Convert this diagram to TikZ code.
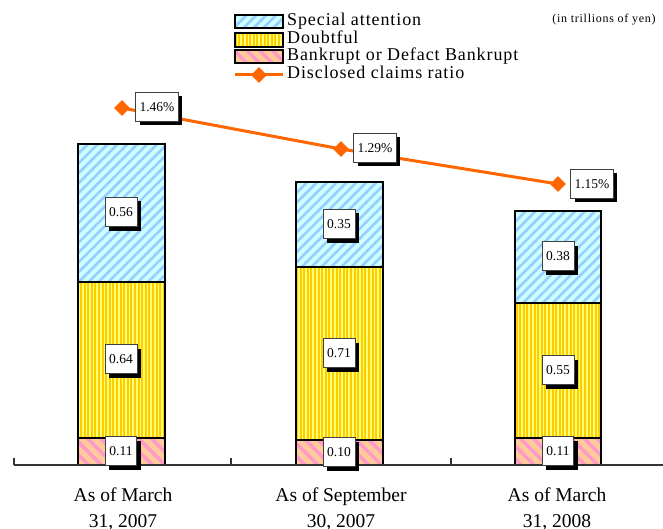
\documentclass[tikz,border=0pt]{standalone}
\usepackage{fontspec}
\setmainfont{Liberation Serif}
\usetikzlibrary{patterns.meta,shapes.geometric,shadows}
\definecolor{saBg}{HTML}{CCFFFF}
\definecolor{saFg}{HTML}{99CCFF}
\definecolor{dBg}{HTML}{FFCC00}
\definecolor{dFg}{HTML}{FFFF77}
\definecolor{bBg}{HTML}{FFCC99}
\definecolor{bFg}{HTML}{FF99CC}
\definecolor{orng}{HTML}{FF6600}
\begin{document}
\begin{tikzpicture}[x=1pt,y=-1pt,
  border/.style={draw=black,line width=1.1pt},
  saseg/.style={fill=saBg,postaction={pattern={Lines[angle=45,distance=7pt,line width=2.6pt]},pattern color=saFg},postaction={border}},
  dseg/.style={fill=dBg,postaction={pattern={Lines[angle=90,distance=3.6pt,line width=1.5pt]},pattern color=dFg},postaction={border}},
  bseg/.style={fill=bBg,postaction={pattern={Lines[angle=-45,distance=9pt,line width=3.5pt]},pattern color=bFg},postaction={border}},
  val/.style={draw=black!75,fill=white,line width=0.6pt,font=\fontsize{13.5}{15}\selectfont,minimum height=29pt,inner xsep=4pt,inner ysep=2pt,drop shadow={shadow xshift=4pt,shadow yshift=-4pt,fill=black,opacity=1}},
  dia/.style={diamond,fill=orng,inner sep=0pt,minimum width=16pt,minimum height=16pt},
  ratio/.style={orng,line width=3pt},
  legtxt/.style={anchor=west,font=\fontsize{18}{18}\selectfont\addfontfeatures{LetterSpace=5},inner sep=0pt,text height=12pt,text depth=3.5pt},
  cat/.style={anchor=north,align=center,font=\fontsize{19.5}{26}\selectfont,inner sep=0pt},
  axis/.style={draw=black!80,line width=1.2pt}
]
\useasboundingbox (0,0) rectangle (663,529);

% legend
\path[saseg] (235,15) rectangle (283,28);
\path[dseg] (235,33) rectangle (283,47);
\path[bseg] (235,50) rectangle (283,63);
\coordinate (l1) at (235,75);
\coordinate (l2) at (283,75);
\draw[ratio] (l1) -- (l2);
\node[dia] (ld) at (259,75) {};
\node[legtxt] (t1) at (287,21) {Special attention};
\node[legtxt] (t2) at (287,39) {Doubtful};
\node[legtxt] (t3) at (287,56.5) {Bankrupt or Defact Bankrupt};
\node[legtxt] (t4) at (287,74.5) {Disclosed claims ratio};
\node[font=\fontsize{12}{13}\selectfont\addfontfeatures{LetterSpace=6},inner sep=0pt] (unit) at (604,20) {(in trillions of yen)};

% bars
\path[bseg] (78,465) rectangle (165,438);
\path[dseg] (78,438) rectangle (165,282);
\path[saseg] (78,282) rectangle (165,144);

\path[bseg] (296,465) rectangle (383,440);
\path[dseg] (296,440) rectangle (383,267);
\path[saseg] (296,267) rectangle (383,182);

\path[bseg] (515,465) rectangle (601,438);
\path[dseg] (515,438) rectangle (601,303);
\path[saseg] (515,303) rectangle (601,211);

% axis
\coordinate (a0) at (14,465);
\coordinate (a1) at (663,465);
\draw[axis] (a0) -- (a1);
\foreach \x in {14,231,451} \draw[axis] (\x,465) -- (\x,458);

% value labels
\node[val] (v11) at (121,451) {0.11};
\node[val] (v12) at (121,359) {0.64};
\node[val] (v13) at (121,212) {0.56};
\node[val] (v21) at (339,452) {0.10};
\node[val] (v22) at (339,353) {0.71};
\node[val] (v23) at (339,224) {0.35};
\node[val] (v31) at (558,451) {0.11};
\node[val] (v32) at (558,370) {0.55};
\node[val] (v33) at (558,256) {0.38};

% ratio line
\coordinate (p1) at (122,108);
\coordinate (p2) at (341,149);
\coordinate (p3) at (558,184);
\draw[ratio] (p1) -- (p2) -- (p3);
\node[dia] (d1) at (p1) {};
\node[dia] (d2) at (p2) {};
\node[dia] (d3) at (p3) {};
\node[val] (r1) at (157,107) {1.46\%};
\node[val] (r2) at (375,148) {1.29\%};
\node[val] (r3) at (592,184) {1.15\%};

% categories
\node[cat] (c1) at (123,488) {As of March\\31, 2007};
\node[cat] (c2) at (341,488) {As of September\\30, 2007};
\node[cat] (c3) at (557,488) {As of March\\31, 2008};
\end{tikzpicture}
\end{document}
